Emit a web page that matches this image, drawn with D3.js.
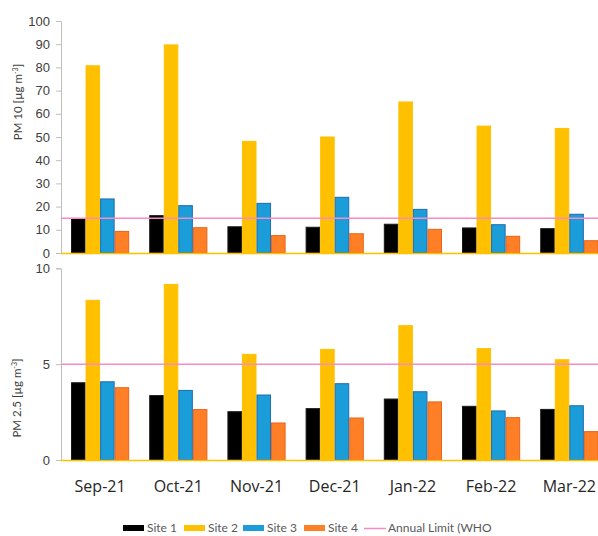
<!DOCTYPE html>
<html>
<head>
<meta charset="utf-8">
<script src="https://cdn.jsdelivr.net/npm/d3@7"></script>
<style>
  html, body { margin: 0; padding: 0; background: #fff; }
  svg { display: block; font-family: Lato, "Open Sans", sans-serif; }
</style>
</head>
<body>
<svg id="chart" width="598" height="536"></svg>
<script>
// Monthly mean concentrations at four sites, Sep-2021 to Mar-2022
const months = ["Sep-21", "Oct-21", "Nov-21", "Dec-21", "Jan-22", "Feb-22", "Mar-22"];
const sites = ["Site 1", "Site 2", "Site 3", "Site 4"];

const pm10Site1 = [14.8, 16.1, 11.3, 11.1, 12.4, 10.8, 10.5];
const pm10Site2 = [80.7, 89.7, 48.1, 50.0, 65.1, 54.7, 53.7];
const pm10Site3 = [23.3, 20.4, 21.4, 24.0, 18.8, 12.2, 16.7];
const pm10Site4 = [9.3, 10.9, 7.5, 8.3, 10.2, 7.2, 5.3];

const pm25Site1 = [4.03, 3.36, 2.52, 2.68, 3.18, 2.80, 2.64];
const pm25Site2 = [8.33, 9.16, 5.51, 5.77, 7.01, 5.81, 5.23];
const pm25Site3 = [4.08, 3.63, 3.39, 3.98, 3.56, 2.56, 2.83];
const pm25Site4 = [3.77, 2.63, 1.93, 2.19, 3.03, 2.21, 1.48];

// WHO annual guideline values
const pm10Limit = 15;
const pm25Limit = 5;

const pm10Ticks = [0, 10, 20, 30, 40, 50, 60, 70, 80, 90, 100];
const pm25Ticks = [0, 5, 10];

const fills = ["#000000", "#FFC000", "#1B9DD9", "#FF7F27"];
const strokes = ["#1a1a1a", "#FFC000", "#1F6BB0", "#E8641A"];
const limitColor = "#F78CC4";

const svg = d3.select("#chart");
const axisX = 61;

const x = d3.scaleBand().domain(months).range([axisX, 608.4]).paddingInner(0.256).paddingOuter(0.128);
const xs = d3.scaleBand().domain(sites).range([0, x.bandwidth()]);

function panel(series, limit, ticks, yTop, yBottom, title, titleY) {
  const y = d3.scaleLinear().domain([0, ticks[ticks.length - 1]]).range([yBottom, yTop]);
  const g = svg.append("g");

  // value axis
  const ax = g.append("g").attr("transform", `translate(${axisX},0)`)
    .call(d3.axisLeft(y).tickValues(ticks).tickSize(5).tickPadding(6).tickFormat(d3.format("d")));
  ax.select(".domain").attr("stroke", "#BFBFBF").attr("stroke-width", 1);
  ax.selectAll(".tick line").attr("stroke", "#BFBFBF");
  ax.selectAll(".tick text").attr("fill", "#404040").style("font-size", "13px");

  // bars
  const rows = months.map((m, i) => ({ m, vals: series.map(s => s[i]) }));
  const grp = g.selectAll(".grp").data(rows).join("g")
    .attr("transform", d => `translate(${x(d.m)},0)`);
  grp.selectAll("rect").data(d => d.vals.map((v, k) => ({ v, k }))).join("rect")
    .attr("x", d => xs(sites[d.k]) + 0.5)
    .attr("width", xs.bandwidth() - 1)
    .attr("y", d => y(d.v))
    .attr("height", d => yBottom - y(d.v))
    .attr("fill", d => fills[d.k])
    .attr("stroke", d => strokes[d.k])
    .attr("stroke-width", 1);

  // category baseline
  g.append("line").attr("x1", axisX).attr("x2", 598)
    .attr("y1", yBottom + 0.5).attr("y2", yBottom + 0.5)
    .attr("stroke", "#FFC000").attr("stroke-width", 1.5);

  // guideline
  g.append("line").attr("x1", axisX).attr("x2", 598)
    .attr("y1", y(limit)).attr("y2", y(limit))
    .attr("stroke", limitColor).attr("stroke-width", 1.5);

  // axis title
  const t = g.append("text")
    .attr("transform", `translate(${title.x},${titleY}) rotate(-90)`)
    .attr("text-anchor", "middle").attr("fill", "#404040").style("font-size", "11.5px");
  t.append("tspan").text(title.text);
  t.append("tspan").attr("dy", -4).style("font-size", "7px").text("-3");
  t.append("tspan").attr("dy", 4).text("]");
}

panel([pm10Site1, pm10Site2, pm10Site3, pm10Site4], pm10Limit, pm10Ticks, 21, 253,
  { x: 22, text: "PM 10 [µg m" }, 102);
panel([pm25Site1, pm25Site2, pm25Site3, pm25Site4], pm25Limit, pm25Ticks, 268.3, 460,
  { x: 21, text: "PM 2.5 [µg m" }, 398);

// month labels
svg.append("g").selectAll("text").data(months).join("text")
  .attr("x", d => x(d) + x.bandwidth() / 2)
  .attr("y", 492)
  .attr("text-anchor", "middle")
  .attr("fill", "#262626")
  .style("font-family", "'Open Sans', sans-serif")
  .style("font-size", "16px")
  .text(d => d);

// legend
const legend = svg.append("g").style("font-size", "12px");
const legendX = [123, 184, 243, 304];
sites.forEach((s, k) => {
  legend.append("rect").attr("x", legendX[k]).attr("y", 525).attr("width", 21).attr("height", 6)
    .attr("fill", fills[k]);
  legend.append("text").attr("x", legendX[k] + 24).attr("y", 532).attr("fill", "#595959").text(s);
});
legend.append("line").attr("x1", 364).attr("x2", 386).attr("y1", 528.5).attr("y2", 528.5)
  .attr("stroke", limitColor).attr("stroke-width", 1.5);
legend.append("text").attr("x", 388).attr("y", 532).attr("fill", "#595959").text("Annual Limit (WHO");
</script>
</body>
</html>
